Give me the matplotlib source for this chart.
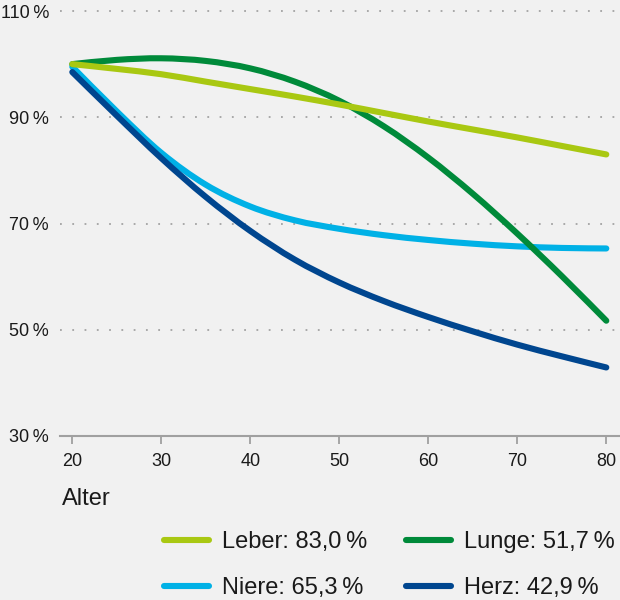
import matplotlib
matplotlib.use("Agg")
import matplotlib.pyplot as plt
from matplotlib.path import Path
from matplotlib.patches import PathPatch
from matplotlib.lines import Line2D
import numpy as np

# Age (years) and relative organ function (% of value at age 20)
ages = [20, 25, 30, 35, 40, 45, 50, 55, 60, 65, 70, 75, 80]
leber = [100.0, 99.1, 98.1, 96.7, 95.3, 93.9, 92.4, 90.8, 89.2, 87.7, 86.2, 84.6, 83.0]
lunge = [100.0, 100.8, 101.1, 100.6, 99.2, 96.7, 93.1, 88.3, 82.4, 75.6, 68.1, 60.1, 51.7]
niere = [99.5, 91.1, 83.3, 77.3, 73.2, 70.6, 69.0, 67.8, 66.9, 66.2, 65.7, 65.4, 65.3]
herz = [98.5, 90.3, 82.3, 75.0, 68.6, 63.2, 58.9, 55.4, 52.4, 49.7, 47.2, 45.0, 42.9]

series_names = ["Leber", "Lunge", "Niere", "Herz"]
series_values = [leber, lunge, niere, herz]
series_colors = ["#a9c812", "#008a3a", "#00b1e6", "#00468f"]
series_z = [5, 4, 2, 3]

x_ticks = [20, 30, 40, 50, 60, 70, 80]
y_ticks = [30, 50, 70, 90, 110]

THIN = "\u2009"
BG = "#f1f1f1"
GRID = "#a3a3a3"
TXT = "#1a1a1a"
FONT = ["Liberation Sans", "DejaVu Sans"]

plt.rcParams["font.family"] = FONT


def smooth_path(xs, ys):
    """Catmull-Rom curve through the points, expressed as cubic Bezier segments."""
    pts = np.column_stack([xs, ys]).astype(float)
    ext = np.vstack([pts[0], pts, pts[-1]])
    verts = [tuple(pts[0])]
    codes = [Path.MOVETO]
    for i in range(1, len(ext) - 2):
        p0, p1, p2, p3 = ext[i - 1], ext[i], ext[i + 1], ext[i + 2]
        c1 = p1 + (p2 - p0) / 6.0
        c2 = p2 - (p3 - p1) / 6.0
        verts += [tuple(c1), tuple(c2), tuple(p2)]
        codes += [Path.CURVE4] * 3
    return Path(verts, codes)


fig = plt.figure(figsize=(6.2, 6.0), dpi=100, facecolor=BG)
ax = fig.add_axes([60 / 620, 164 / 600, 560 / 620, 425 / 600], facecolor=BG)

# axis scales: 20 -> px 72.3, 80 -> px 606.3
px_per_year = (606.3 - 72.3) / 60
ax.set_xlim(20 - 12.3 / px_per_year, 80 + 13.7 / px_per_year)
ax.set_ylim(30, 110)

for name, vals, col, z in zip(series_names, series_values, series_colors, series_z):
    patch = PathPatch(smooth_path(ages, vals), fill=False, edgecolor=col,
                      linewidth=4.4, capstyle="round", joinstyle="round", zorder=z)
    ax.add_patch(patch)

# dotted horizontal grid
for yv in y_ticks[1:]:
    ax.axhline(yv, color=GRID, linewidth=1.3, linestyle=(0, (1, 5.8)),
               zorder=1, clip_on=False)

for s in ["left", "right", "top"]:
    ax.spines[s].set_visible(False)
ax.spines["bottom"].set_color("#a0a0a0")
ax.spines["bottom"].set_linewidth(1.5)

ax.set_xticks(x_ticks)
ax.set_xticklabels([str(v) for v in x_ticks])
ax.set_yticks(y_ticks)
ax.set_yticklabels([f"{v}{THIN}%" for v in y_ticks])
ax.tick_params(axis="x", length=5.5, width=1.3, color="#a0a0a0", pad=7,
               labelsize=13, labelcolor=TXT)
ax.tick_params(axis="y", length=0, pad=8, labelsize=13, labelcolor=TXT)

fig.text(62 / 620, 1 - 499 / 600, "Alter", fontsize=17, color=TXT,
         ha="left", va="center")

handles = [Line2D([], [], color=c, linewidth=4.4, solid_capstyle="round")
           for c in series_colors]
labels = [f"{n}: {v[-1]:.1f}".replace(".", ",") + f"{THIN}%"
          for n, v in zip(series_names, series_values)]
# column-wise fill -> Leber, Niere | Lunge, Herz
order = [0, 2, 1, 3]
leg = fig.legend([handles[i] for i in order], [labels[i] for i in order],
                 ncol=2, loc="center left", frameon=False,
                 bbox_to_anchor=(164 / 620, 1 - 565 / 600),
                 bbox_transform=fig.transFigure, borderaxespad=0, borderpad=0,
                 fontsize=17, handlelength=1.9, handletextpad=0.55,
                 columnspacing=1.65, labelspacing=1.02)
for t in leg.get_texts():
    t.set_color(TXT)

fig.savefig("out.png", dpi=100, facecolor=BG)
